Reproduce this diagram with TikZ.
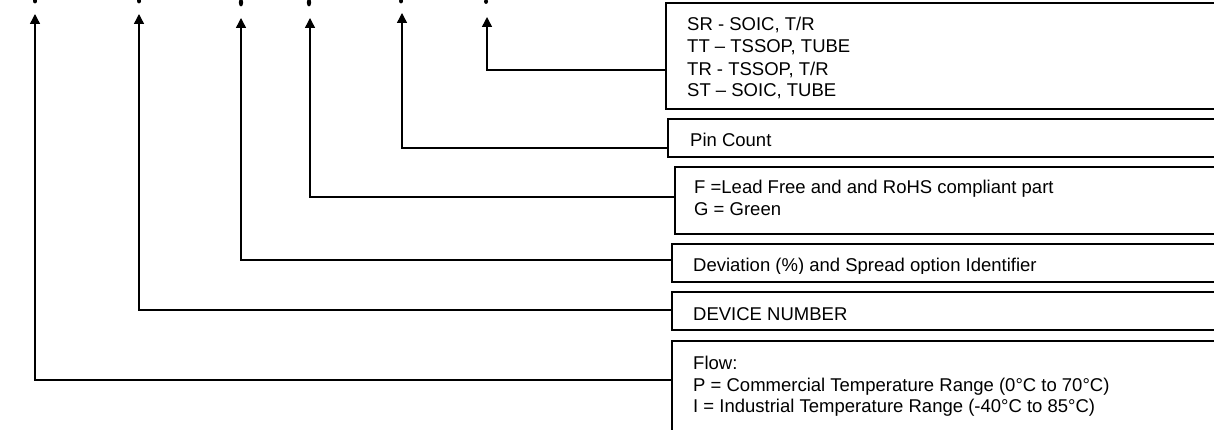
\documentclass[tikz,border=0pt]{standalone}
\usepackage{fontspec}
\setmainfont{Liberation Sans}
\usetikzlibrary{arrows.meta}
\begin{document}
\begin{tikzpicture}[x=1pt,y=-1pt,
  box/.style={draw,line width=1.5pt,fill=white,minimum width=600pt,anchor=north west,inner sep=0pt,outer sep=0pt},
  lbl/.style={anchor=base west,inner sep=0pt,font=\fontsize{18.5}{22}\selectfont},
  conn/.style={line width=1.4pt,-{Triangle[length=10pt,width=10pt]}}]
\useasboundingbox (0,0) rectangle (1214,430);
% boxes
\node[box,minimum height=106pt] (b1) at (666,3) {};
\node[box,minimum height=38pt] (b2) at (668,119) {};
\node[box,minimum height=67pt] (b3) at (675,167) {};
\node[box,minimum height=38pt] (b4) at (672,244) {};
\node[box,minimum height=38pt] (b5) at (672,292) {};
\node[box,minimum height=120pt] (b6) at (672,341) {};
% texts
\node[lbl] (s1) at (687,31) {SR - SOIC, T/R};
\node[lbl] (s2) at (687,53) {TT – TSSOP, TUBE};
\node[lbl] (s3) at (687,75.5) {TR - TSSOP, T/R};
\node[lbl] (s4) at (687,97) {ST – SOIC, TUBE};
\node[lbl] (pc) at (690,147) {Pin Count};
\node[lbl] (f1) at (694,194) {F =Lead Free and and RoHS compliant part};
\node[lbl] (f2) at (694,216) {G = Green};
\begin{scope}
\clip (672,244) rectangle (1214,273.5);
\node[lbl] (dv) at (693,271) {Deviation (\%) and Spread option Identifier};
\end{scope}
\node[lbl] (dn) at (693,320) {DEVICE NUMBER};
\node[lbl] (w1) at (693,369.5) {Flow:};
\node[lbl] (w2) at (693,391.5) {P = Commercial Temperature Range (0°C to 70°C)};
\node[lbl] (w3) at (693,412) {I = Industrial Temperature Range (-40°C to 85°C)};
% arrow tips
\coordinate (t1) at (35,14);
\coordinate (t2) at (139,14);
\coordinate (t3) at (241,18);
\coordinate (t4) at (310,18);
\coordinate (t5) at (402,13);
\coordinate (t6) at (487,17);
% connectors
\draw[conn] (b6.west |- 0,380) -| (t1);
\draw[conn] (b5.west |- 0,310) -| (t2);
\draw[conn] (b4.west |- 0,260) -| (t3);
\draw[conn] (b3.west |- 0,197) -| (t4);
\draw[conn] (b2.west |- 0,148) -| (t5);
\draw[conn] (b1.west |- 0,70) -| (t6);
% top marks
\fill (35,1) ellipse [x radius=2pt, y radius=2.5pt];
\fill (139,1) ellipse [x radius=2pt, y radius=2.5pt];
\fill (241,2.5) ellipse [x radius=2.2pt, y radius=4pt];
\fill (309,2.5) ellipse [x radius=2.2pt, y radius=4pt];
\fill (401,1) ellipse [x radius=2pt, y radius=2.5pt];
\fill (486,1.5) ellipse [x radius=2pt, y radius=2.5pt];
\end{tikzpicture}
\end{document}
